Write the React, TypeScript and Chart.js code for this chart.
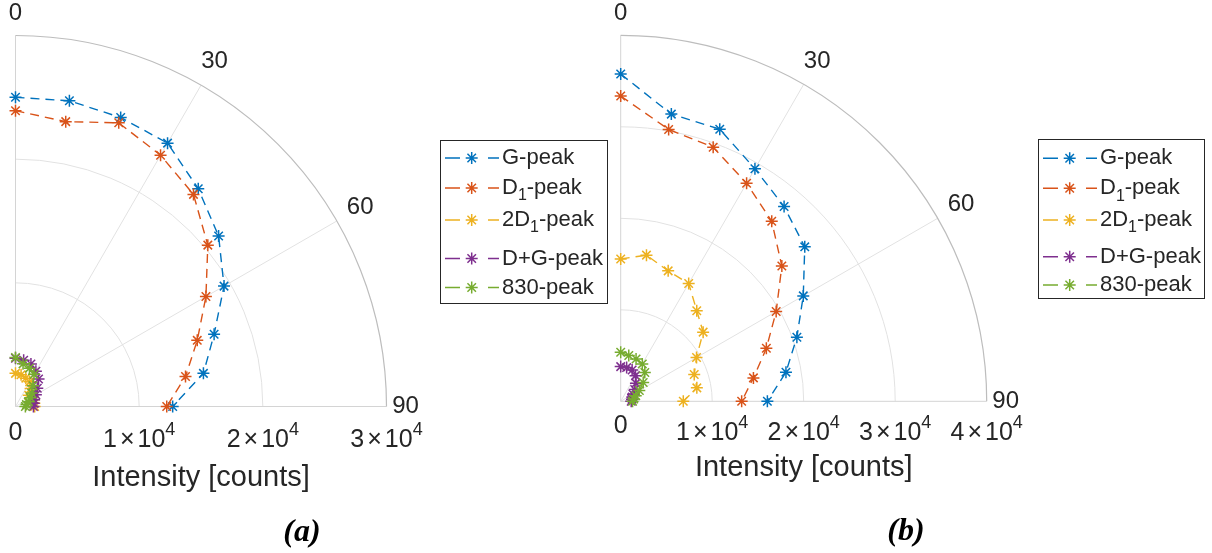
import React, { useEffect, useRef } from "react";
import { Chart, registerables } from "chart.js";

Chart.register(...registerables);

// Polar angle of every sample (degrees, clockwise from the top)
const ANGLES_DEG = [0, 10, 20, 30, 40, 50, 60, 70, 80, 90];

const SERIES_NAMES = ["G-peak", "D1-peak", "2D1-peak", "D+G-peak", "830-peak"];
const SERIES_COLORS = ["#0072BD", "#D95319", "#EDB120", "#7E2F8E", "#77AC30"];

// Panel (a): intensities in counts at each angle
const G_PEAK_A = [25000, 25100, 24870, 24590, 22990, 21440, 19470, 17090, 15430, 12710];
const D1_PEAK_A = [23920, 23390, 24410, 23460, 22390, 20300, 17780, 15640, 13960, 12230];
const D1_2_PEAK_A = [2680, 2600, 2440, 2300, 1900, 1400, 1500, 1600, 1550, 1550];
const DG_PEAK_A = [3900, 3800, 3650, 3300, 2900, 2300, 1900, 1600, 1500, 1450];
const P830_PEAK_A = [3970, 3500, 3300, 3000, 2200, 1700, 1400, 1100, 900, 800];

// Panel (b): intensities in counts at each angle
const G_PEAK_B = [35770, 31870, 31650, 29340, 27780, 26260, 23040, 20490, 18340, 16030];
const D1_PEAK_B = [33370, 30170, 29550, 27520, 25680, 22990, 19620, 16940, 14730, 13220];
const D1_2_PEAK_B = [15550, 16220, 15170, 14860, 12930, 11760, 9570, 8550, 8450, 6840];
const DG_PEAK_B = [3790, 3740, 3650, 3240, 2590, 2000, 1550, 1350, 1250, 1150];
const P830_PEAK_B = [5360, 5080, 4910, 4720, 4100, 3210, 2350, 1750, 1450, 1300];

const THETA_TICKS = [0, 30, 60, 90];
const R_TICKS_A = [0, 10000, 20000, 30000];
const R_TICKS_B = [0, 10000, 20000, 30000, 40000];
const R_MAX_A = 30000;
const R_MAX_B = 40000;

const AXIS_TITLE = "Intensity [counts]";
const CAPTION_A = "(a)";
const CAPTION_B = "(b)";

const SANS = '"Liberation Sans", Arial, Helvetica, sans-serif';
const SERIF = '"Liberation Serif", "DejaVu Serif", serif';
const INK = "#262626";

type PanelLayout = {
  left: number; // canvas left on the page
  width: number;
  cx: number; // pole position on the page
  cy: number;
  radius: number; // outer ring radius in px
  rMax: number;
  rTicks: number[];
  series: number[][];
  legend: { x: number; y: number; w: number; h: number; rows: number[] };
  caption: string;
  captionPos: [number, number];
  titleY: number;
  rLabelTop: number;
};

const toXY = (r: number[]) =>
  r.map((v, i) => {
    const t = (ANGLES_DEG[i] * Math.PI) / 180;
    return { x: v * Math.sin(t), y: v * Math.cos(t) };
  });

function drawStar(ctx: CanvasRenderingContext2D, x: number, y: number, r: number, color: string) {
  ctx.save();
  ctx.strokeStyle = color;
  ctx.lineWidth = 1.5;
  ctx.setLineDash([]);
  ctx.beginPath();
  ctx.moveTo(x - r, y);
  ctx.lineTo(x + r, y);
  ctx.moveTo(x, y - r);
  ctx.lineTo(x, y + r);
  const d = r * Math.SQRT1_2;
  ctx.moveTo(x - d, y - d);
  ctx.lineTo(x + d, y + d);
  ctx.moveTo(x - d, y + d);
  ctx.lineTo(x + d, y - d);
  ctx.stroke();
  ctx.restore();
}

// Draws a legend entry label, turning the "1" after a D into a subscript
function drawLegendText(ctx: CanvasRenderingContext2D, name: string, x: number, y: number) {
  const main = `22px ${SANS}`;
  const sub = `16px ${SANS}`;
  ctx.textAlign = "left";
  ctx.textBaseline = "middle";
  const m = name.match(/^(.*D)1(-peak)$/);
  ctx.font = main;
  if (!m) {
    ctx.fillText(name, x, y);
    return;
  }
  ctx.fillText(m[1], x, y);
  let px = x + ctx.measureText(m[1]).width;
  ctx.font = sub;
  ctx.fillText("1", px, y + 8);
  px += ctx.measureText("1").width;
  ctx.font = main;
  ctx.fillText(m[2], px, y);
}

function polarFrame(p: PanelLayout) {
  return {
    id: "polarFrame",
    beforeDatasetsDraw(chart: any) {
      const ctx: CanvasRenderingContext2D = chart.ctx;
      const xs = chart.scales.x;
      const ys = chart.scales.y;
      const cx = xs.getPixelForValue(0);
      const cy = ys.getPixelForValue(0);
      const rad = (v: number) => xs.getPixelForValue(v) - cx;
      const R = rad(p.rMax);
      ctx.save();
      ctx.setLineDash([]);
      // inner rings
      ctx.strokeStyle = "#e2e2e2";
      ctx.lineWidth = 1;
      p.rTicks.forEach((t) => {
        if (t <= 0 || t >= p.rMax) return;
        ctx.beginPath();
        ctx.arc(cx, cy, rad(t), -Math.PI / 2, 0);
        ctx.stroke();
      });
      // spokes
      THETA_TICKS.forEach((a) => {
        if (a === 0 || a === 90) return;
        const t = (a * Math.PI) / 180;
        ctx.beginPath();
        ctx.moveTo(cx, cy);
        ctx.lineTo(cx + R * Math.sin(t), cy - R * Math.cos(t));
        ctx.stroke();
      });
      // edges of the sector
      ctx.strokeStyle = "#d4d4d4";
      ctx.beginPath();
      ctx.moveTo(cx, cy - R);
      ctx.lineTo(cx, cy);
      ctx.lineTo(cx + R, cy);
      ctx.stroke();
      // outer arc
      ctx.strokeStyle = "#bdbdbd";
      ctx.lineWidth = 1.2;
      ctx.beginPath();
      ctx.arc(cx, cy, R, -Math.PI / 2, 0);
      ctx.stroke();
      ctx.restore();
    },
    afterDraw(chart: any) {
      const ctx: CanvasRenderingContext2D = chart.ctx;
      const xs = chart.scales.x;
      const ys = chart.scales.y;
      const cx = xs.getPixelForValue(0);
      const cy = ys.getPixelForValue(0);
      const rad = (v: number) => xs.getPixelForValue(v) - cx;
      const R = rad(p.rMax);
      const off = -p.left;
      ctx.save();
      ctx.fillStyle = INK;

      // angle labels
      ctx.font = `24px ${SANS}`;
      ctx.textAlign = "center";
      ctx.textBaseline = "middle";
      THETA_TICKS.forEach((a) => {
        const t = (a * Math.PI) / 180;
        const d = a === 0 ? 22 : a === 90 ? 19 : 27;
        ctx.fillText(String(a), cx + (R + d) * Math.sin(t), cy - (R + d) * Math.cos(t));
      });

      // radial tick labels
      ctx.textBaseline = "alphabetic";
      p.rTicks.forEach((t) => {
        const x = cx + rad(t);
        const top = p.rLabelTop;
        if (t === 0) {
          ctx.font = `25px ${SANS}`;
          ctx.textAlign = "center";
          ctx.fillText("0", x, top + 19);
          return;
        }
        const exp = Math.floor(Math.log10(t));
        const mant = Math.round(t / Math.pow(10, exp));
        const gap = 3;
        ctx.font = `25px ${SANS}`;
        const wM = ctx.measureText(String(mant)).width;
        const wX = ctx.measureText("\u00d7").width;
        const wT = ctx.measureText("10").width;
        ctx.font = `18px ${SANS}`;
        const wS = ctx.measureText(String(exp)).width;
        const total = wM + gap + wX + gap + wT + wS;
        let x0 = x - total / 2;
        ctx.textAlign = "left";
        ctx.font = `25px ${SANS}`;
        ctx.fillText(String(mant), x0, top + 26);
        x0 += wM + gap;
        ctx.fillText("\u00d7", x0, top + 26);
        x0 += wX + gap;
        ctx.fillText("10", x0, top + 26);
        x0 += wT;
        ctx.font = `18px ${SANS}`;
        ctx.fillText(String(exp), x0, top + 14);
      });

      // radial axis title
      ctx.font = `29px ${SANS}`;
      ctx.textAlign = "center";
      ctx.textBaseline = "middle";
      ctx.fillText(AXIS_TITLE, cx + R / 2, p.titleY);

      // legend
      const L = p.legend;
      const lx = L.x + off;
      ctx.fillStyle = "#ffffff";
      ctx.fillRect(lx, L.y, L.w, L.h);
      ctx.strokeStyle = "#262626";
      ctx.lineWidth = 1;
      ctx.strokeRect(lx + 0.5, L.y + 0.5, L.w, L.h);
      SERIES_NAMES.forEach((name, i) => {
        const y = L.rows[i];
        const c = SERIES_COLORS[i];
        ctx.strokeStyle = c;
        ctx.lineWidth = 1.4;
        ctx.beginPath();
        ctx.moveTo(lx + 5, y);
        ctx.lineTo(lx + 20, y);
        ctx.moveTo(lx + 48, y);
        ctx.lineTo(lx + 59, y);
        ctx.stroke();
        drawStar(ctx, lx + 31.7, y, 6, c);
        ctx.fillStyle = INK;
        drawLegendText(ctx, name, lx + 62, y);
      });

      // caption
      ctx.fillStyle = "#000000";
      ctx.font = `italic bold 32px ${SERIF}`;
      ctx.textAlign = "center";
      ctx.textBaseline = "middle";
      ctx.fillText(p.caption, p.captionPos[0] + off, p.captionPos[1]);
      ctx.restore();
    },
  };
}

function PolarPanel({ p }: { p: PanelLayout }) {
  const ref = useRef<HTMLCanvasElement | null>(null);
  useEffect(() => {
    if (!ref.current) return;
    const H = 553;
    const localCx = p.cx - p.left;
    const chart = new Chart(ref.current, {
      type: "scatter",
      data: {
        datasets: p.series.map((r, i) => ({
          label: SERIES_NAMES[i],
          data: toXY(r),
          // later series are painted over earlier ones
          order: -i,
          showLine: true,
          borderColor: SERIES_COLORS[i],
          backgroundColor: SERIES_COLORS[i],
          borderWidth: 1.4,
          borderDash: [9, 6],
          pointStyle: "star",
          pointRadius: 6,
          pointBorderWidth: 1.5,
          pointBorderColor: SERIES_COLORS[i],
          tension: 0,
          clip: false,
        })),
      },
      options: {
        animation: false,
        responsive: false,
        maintainAspectRatio: false,
        layout: {
          padding: {
            left: localCx,
            right: p.width - (localCx + p.radius),
            top: p.cy - p.radius,
            bottom: H - p.cy,
          },
        },
        scales: {
          x: { type: "linear", min: 0, max: p.rMax, display: false },
          y: { type: "linear", min: 0, max: p.rMax, display: false },
        },
        plugins: {
          legend: { display: false },
          tooltip: { enabled: false },
        },
        events: [],
      },
      plugins: [polarFrame(p)],
    } as any);
    return () => chart.destroy();
  }, [p]);
  return (
    <canvas
      ref={ref}
      width={p.width}
      height={553}
      style={{ position: "absolute", left: p.left, top: 0, width: p.width, height: 553 }}
    />
  );
}

const PANEL_A: PanelLayout = {
  left: 0,
  width: 612,
  cx: 15.5,
  cy: 406.5,
  radius: 371,
  rMax: R_MAX_A,
  rTicks: R_TICKS_A,
  series: [G_PEAK_A, D1_PEAK_A, D1_2_PEAK_A, DG_PEAK_A, P830_PEAK_A],
  legend: { x: 440, y: 140, w: 167, h: 163, rows: [158, 188, 220, 258.5, 287.5] },
  caption: CAPTION_A,
  captionPos: [302, 533],
  titleY: 478,
  rLabelTop: 421,
};

const PANEL_B: PanelLayout = {
  left: 612,
  width: 600,
  cx: 620.7,
  cy: 401.3,
  radius: 366,
  rMax: R_MAX_B,
  rTicks: R_TICKS_B,
  series: [G_PEAK_B, D1_PEAK_B, D1_2_PEAK_B, DG_PEAK_B, P830_PEAK_B],
  legend: { x: 1038, y: 139, w: 166, h: 159, rows: [158.3, 188.3, 220, 256.7, 285] },
  caption: CAPTION_B,
  captionPos: [906, 531.5],
  titleY: 468,
  rLabelTop: 414,
};

export default function App() {
  return (
    <div style={{ position: "absolute", left: 0, top: 0, width: 1212, height: 553, background: "#ffffff" }}>
      <PolarPanel p={PANEL_A} />
      <PolarPanel p={PANEL_B} />
    </div>
  );
}
